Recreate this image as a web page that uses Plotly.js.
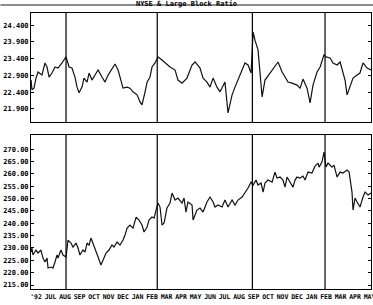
<!DOCTYPE html>
<html>
<head>
<meta charset="utf-8">
<script src="https://cdn.plot.ly/plotly-3.0.1.min.js"></script>
<style>html,body{margin:0;padding:0;background:#fff;}#chart{width:373px;height:305px;}</style>
</head>
<body>
<div id="chart"></div>
<script>
// Month tick labels (Jun 1992 .. May 1994), x = month index
const monthLabels = ["'92","JUL","AUG","SEP","OCT","NOV","DEC","JAN","FEB","MAR","APR","MAY",
                     "JUN","JUL","AUG","SEP","OCT","NOV","DEC","JAN","FEB","MAR","APR","MAY"];
const monthTicks = [0,1,2,3,4,5,6,7,8,9,10,11,12,13,14,15,16,17,18,19,20,21,22,23];

// Vertical marker lines (month index)
const markerLines = [2.07, 8.36, 14.92, 19.93];

// Upper panel: Large Block Ratio
const ratioX = [-0.34,-0.28,-0.14,0,0.14,0.41,0.62,0.76,0.90,1.10,1.31,1.52,1.79,2.07,2.28,2.48,2.69,2.83,2.97,3.17,
  3.31,3.52,3.66,3.86,4.07,4.28,4.55,4.76,4.97,5.24,5.45,5.66,5.86,6.00,6.28,6.48,6.69,6.97,7.17,7.31,
  7.52,7.66,7.86,8.00,8.21,8.41,8.69,8.90,9.24,9.59,9.79,10.07,10.41,10.76,10.97,11.31,11.52,11.79,12.00,12.21,
  12.48,12.69,13.03,13.24,13.52,13.72,14.07,14.41,14.62,14.83,14.97,15.10,15.31,15.45,15.59,15.79,16.14,16.48,16.69,16.97,
  17.17,17.38,17.66,18.00,18.21,18.41,18.69,18.90,19.10,19.38,19.59,19.86,20.00,20.28,20.48,20.76,20.97,21.17,21.31,21.45,
  21.66,21.86,22.14,22.34,22.55,22.69,22.83,23.10];
const ratioY = [22.76,22.47,22.52,22.82,23.00,22.91,23.27,23.15,22.85,22.97,23.15,23.12,23.27,23.45,23.15,23.12,22.85,22.55,22.38,22.55,
  22.82,22.70,22.97,22.76,22.91,23.06,22.85,22.70,22.91,23.12,23.24,23.06,22.76,22.52,22.55,22.52,22.41,22.32,22.11,22.02,
  22.41,22.70,22.85,23.15,23.27,23.45,23.36,23.27,23.15,23.06,22.76,22.67,22.82,23.21,23.30,23.12,22.82,22.70,22.55,22.82,
  22.55,22.41,22.70,21.78,22.32,22.55,22.91,23.27,23.21,22.97,24.19,23.95,23.66,23.06,22.26,22.76,22.97,23.21,23.30,23.00,
  22.85,22.70,22.67,22.61,22.52,22.79,22.52,22.08,22.61,23.00,23.15,23.51,23.45,23.42,23.27,23.21,23.30,23.00,22.76,22.32,
  22.55,22.82,22.91,22.97,23.27,23.21,23.12,23.06];
const ratioTicks = [21.9,22.4,22.9,23.4,23.9,24.4];

// Lower panel: NYSE index
const nyseX = [-0.34,-0.28,-0.21,0,0.14,0.34,0.48,0.62,0.76,0.83,1.03,1.17,1.31,1.45,1.52,1.72,1.86,2.07,2.21,2.41,
  2.55,2.76,2.90,3.03,3.24,3.38,3.52,3.66,3.79,3.93,4.14,4.28,4.48,4.62,4.83,5.03,5.24,5.38,5.59,5.79,
  6.00,6.14,6.28,6.48,6.69,6.90,7.10,7.31,7.45,7.66,7.79,8.00,8.14,8.28,8.41,8.55,8.69,8.83,9.03,9.24,
  9.38,9.59,9.79,10.07,10.21,10.34,10.48,10.76,10.83,11.10,11.31,11.52,11.79,12.00,12.21,12.34,12.55,12.83,13.03,13.24,
  13.52,13.72,13.93,14.21,14.41,14.62,14.83,14.97,15.17,15.31,15.52,15.66,15.79,16.00,16.28,16.48,16.62,16.83,17.03,17.17,
  17.31,17.52,17.72,17.86,18.00,18.21,18.41,18.55,18.76,19.03,19.24,19.45,19.52,19.72,19.86,20.00,20.14,20.41,20.55,20.76,
  20.97,21.17,21.45,21.59,21.79,21.86,22.00,22.14,22.34,22.55,22.69,22.90,23.10];
const nyseY = [228.35,229.97,227.14,229.16,227.95,229.16,225.92,224.31,225.92,221.88,222.28,221.88,224.31,227.14,225.92,229.16,227.14,226.33,233.20,231.99,
  230.37,231.99,229.97,227.14,229.16,228.35,231.99,231.18,234.01,231.99,228.35,226.33,223.10,225.12,227.95,229.16,231.18,230.37,232.39,231.18,
  233.20,235.22,238.05,239.27,238.05,242.50,241.29,239.27,236.44,238.46,241.29,242.50,242.10,245.33,248.16,246.55,239.27,240.08,246.14,248.16,
  252.21,249.38,250.19,248.16,250.19,244.52,248.57,247.36,241.29,245.33,246.14,244.52,248.57,250.59,248.57,246.55,247.36,246.55,249.38,246.55,
  249.38,247.36,249.38,250.59,252.21,254.23,256.66,255.44,257.46,255.44,256.25,252.61,256.25,257.46,256.66,260.70,258.27,258.68,257.46,254.63,
  258.68,256.66,254.63,257.46,258.68,258.27,259.08,257.46,260.70,260.30,263.13,264.34,262.72,264.74,268.79,262.72,264.34,262.72,263.53,258.68,
  260.70,260.30,261.51,260.70,252.61,245.33,250.19,248.57,246.55,250.59,252.61,251.40,252.21];
const nyseTicks = [215,220,225,230,235,240,245,250,255,260,265,270];

const tickFont = {family: 'DejaVu Sans Mono', size: 7, color: '#000', weight: 'bold'};
const xTickFont = {family: 'DejaVu Sans Mono', size: 6.5, color: '#000', weight: 'bold'};

const traces = [
  {x: ratioX, y: ratioY, xaxis: 'x2', yaxis: 'y2', type: 'scatter', mode: 'lines',
   line: {color: '#111', width: 1.2}, hoverinfo: 'skip'},
  {x: nyseX, y: nyseY, xaxis: 'x', yaxis: 'y', type: 'scatter', mode: 'lines',
   line: {color: '#111', width: 1.2}, hoverinfo: 'skip'}
];

const shapes = [];
markerLines.forEach(v => {
  shapes.push({type: 'line', xref: 'x', yref: 'y domain', x0: v, x1: v, y0: 0, y1: 1, line: {color: '#000', width: 1.2}});
  shapes.push({type: 'line', xref: 'x2', yref: 'y2 domain', x0: v, x1: v, y0: 0, y1: 1, line: {color: '#000', width: 1.2}});
});
// scanner header rule
shapes.push({type: 'line', xref: 'paper', yref: 'paper', x0: -0.09, x1: 1.01, y0: 1.029, y1: 1.029, line: {color: '#666', width: 1.5}});

const layout = {
  width: 373, height: 305,
  margin: {l: 31, r: 2, t: 13, b: 16, pad: 0},
  paper_bgcolor: '#fff', plot_bgcolor: '#fff',
  showlegend: false,
  title: {text: 'NYSE & Large Block Ratio', font: {family: 'DejaVu Sans Mono', size: 7, color: '#000', weight: 'bold'},
          xref: 'container', x: 0.5, xanchor: 'center', yref: 'container', y: 0.988, yanchor: 'middle'},
  xaxis: {range: [-0.345, 23.1], tickvals: monthTicks, ticktext: monthLabels, tickfont: xTickFont, tickangle: 0,
          ticklabeloverflow: 'allow',
          showgrid: false, zeroline: false, showline: true, mirror: true, linecolor: '#000', linewidth: 1,
          ticks: '', anchor: 'y', ticklabelstandoff: 1},
  yaxis: {domain: [0, 0.558], range: [213.4, 275.7], tickvals: nyseTicks, tickformat: '.2f', tickfont: tickFont,
          showgrid: false, zeroline: false, showline: true, mirror: 'ticks', linecolor: '#000', linewidth: 1,
          ticks: 'inside', ticklen: 3, tickcolor: '#000', anchor: 'x'},
  xaxis2: {range: [-0.345, 23.1], showticklabels: false, showgrid: false, zeroline: false, showline: true,
           mirror: true, linecolor: '#000', linewidth: 1, ticks: '', anchor: 'y2', matches: 'x'},
  yaxis2: {domain: [0.605, 1], range: [21.51, 24.76], tickvals: ratioTicks, tickformat: '.3f', tickfont: tickFont,
           showgrid: false, zeroline: false, showline: true, mirror: 'ticks', linecolor: '#000', linewidth: 1,
           ticks: 'inside', ticklen: 3, tickcolor: '#000', anchor: 'x2'},
  shapes: shapes
};

Plotly.newPlot('chart', traces, layout, {staticPlot: true, displayModeBar: false});
</script>
</body>
</html>
